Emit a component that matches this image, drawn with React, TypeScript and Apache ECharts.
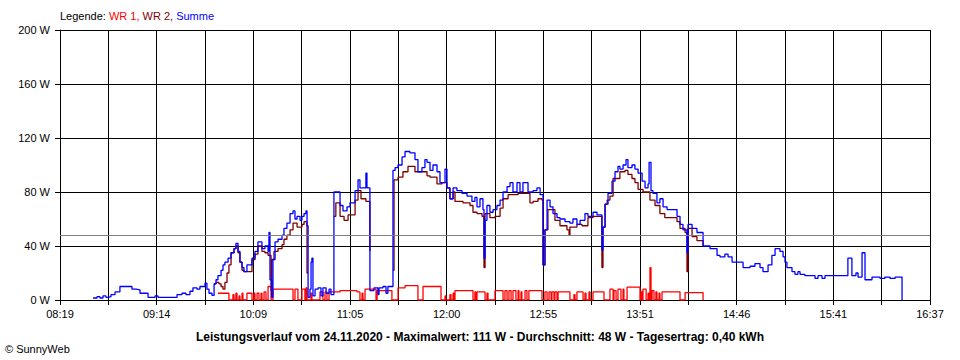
import React, { useEffect, useRef } from 'react';
import * as echarts from 'echarts';

// x values: minutes after 08:19 (first axis tick); y values: watts
const TIME_LABELS = ['08:19', '09:14', '10:09', '11:05', '12:00', '12:55', '13:51', '14:46', '15:41', '16:37'];
const SPAN_MIN = 498; // 08:19 -> 16:37
const AVG_W = 48;
const DATE = '24.11.2020';
const MAX_W = 111;
const YIELD_KWH = '0,40';

const wr1: [number, number][] = [
  [90.4, 5], [96.7, 0], [99.0, 4], [99.6, 0], [100.7, 5], [101.3, 0], [102.5, 3], [103.0, 0],
  [104.2, 5], [104.7, 0], [107.0, 5], [109.9, 0], [111.0, 5], [111.6, 0], [112.8, 5], [113.9, 0],
  [115.1, 5], [115.6, 0], [116.8, 6], [117.9, 0], [119.1, 10], [120.8, 0], [121.9, 8], [133.4, 0],
  [134.5, 8], [136.2, 0], [138.5, 8], [140.2, 0], [140.8, 9], [141.4, 0], [143.7, 5], [144.2, 0],
  [148.8, 6], [150.5, 0], [151.7, 6], [152.8, 0], [154.0, 6], [160.3, 7], [170.0, 6], [171.7, 0],
  [172.9, 5], [173.4, 0], [174.6, 8], [180.9, 0], [181.5, 7], [190.0, 0], [193.5, 9], [197.5, 10.6],
  [204.9, 0], [207.8, 10], [218.1, 0], [220.4, 3], [220.9, 0], [223.2, 4], [223.8, 0], [225.0, 5],
  [225.5, 0], [226.1, 7], [236.4, 0], [237.5, 6], [238.1, 0], [238.7, 6], [243.3, 0], [244.4, 5],
  [245.0, 0], [249.0, 7], [253.6, 0], [254.7, 7], [255.9, 0], [257.0, 7], [258.2, 0], [259.3, 7],
  [261.0, 0], [262.2, 7], [262.7, 0], [263.9, 6], [264.4, 0], [266.2, 7], [267.3, 0], [268.4, 7],
  [275.9, 0], [277.6, 6], [278.8, 0], [279.9, 6], [281.1, 0], [281.6, 6], [282.8, 0], [283.3, 6],
  [284.5, 0], [285.1, 6], [291.9, 0], [294.2, 4], [294.8, 0], [295.9, 6], [299.4, 0], [300.5, 5],
  [301.1, 0], [302.8, 6], [303.4, 0], [305.1, 6], [311.4, 0], [314.8, 8], [316.6, 0], [317.1, 7],
  [318.3, 0], [319.4, 8], [321.1, 0], [322.3, 8], [322.8, 0], [324.6, 9.5], [332.0, 0], [332.6, 6],
  [333.2, 0], [333.7, 8], [335.5, 0], [336.6, 5], [337.2, 0], [337.7, 24], [338.3, 0], [338.9, 7],
  [340.0, 0], [341.1, 6], [341.7, 0], [342.9, 5], [343.4, 0], [344.6, 6], [354.9, 0], [357.8, 5.5],
  [368.1, 0],
];

const wr2: [number, number | null][] = [
  [88.2, 12], [89.3, 13], [91.0, 12], [92.2, 10], [93.3, 8], [94.4, 13], [95.6, 20], [96.7, 26],
  [97.9, 35], [99.6, 38], [100.7, 40], [101.9, 35], [103.0, 28], [104.2, 22], [105.3, 21], [109.9, 30],
  [111.6, 34], [113.3, 40], [115.6, 36], [117.3, 35], [119.1, 33], [120.8, 7], [121.3, 30], [122.5, 36],
  [124.8, 38], [127.1, 41], [128.2, 45], [129.9, 48], [131.7, 52], [133.4, 57], [135.7, 54], [137.4, 54],
  [138.5, 56], [139.7, 58], [141.4, 20], [142.0, null],
  [156.8, 62], [157.9, 72], [160.3, 62], [162.6, 59], [164.9, 63], [166.0, 63], [168.9, 74], [170.6, 81],
  [172.3, 75], [175.1, 73], [177.4, 37], [178.0, null],
  [190.6, 22], [191.2, 89], [193.5, 91], [196.3, 95], [199.2, 99], [203.2, 95], [204.9, 95], [207.2, 95],
  [210.1, 92], [211.8, 91], [215.8, 86], [218.7, 87], [221.5, 83], [223.2, 75], [225.0, 80], [226.1, 73],
  [230.7, 72], [234.7, 70], [236.4, 65], [238.7, 64], [241.6, 62], [242.7, 24], [243.3, 64], [246.1, 61],
  [249.0, 62], [251.9, 68], [253.6, 75], [256.5, 78], [262.2, 79], [269.0, 72], [270.8, 73], [273.6, 75],
  [275.9, 74], [276.5, 26], [277.6, 52], [279.3, 67], [283.3, 59], [286.2, 55], [290.2, 52], [291.4, 48],
  [291.9, 54], [295.9, 56], [298.8, 55], [302.2, 61], [305.1, 62], [310.2, 24], [310.8, 54], [312.0, 71],
  [313.2, 74], [314.8, 77], [316.6, 90], [320.5, 95], [323.4, 96], [325.1, 93], [327.4, 90], [329.1, 87],
  [330.9, 82], [333.7, 80], [337.7, 74], [340.6, 70], [343.4, 64], [346.2, 61], [353.2, 58], [354.9, 53],
  [357.8, 50], [358.9, 21], [359.5, 53], [361.8, 47], [364.6, 44], [368.1, 40], [368.6, null],
];

const summe: [number, number][] = [
  [18.9, 1.5], [21.2, 2.5], [22.9, 1.5], [24.6, 3], [26.3, 2], [27.5, 2.5], [29.2, 4], [31.5, 6],
  [34.3, 10], [41.2, 8], [43.5, 7.5], [45.8, 5], [50.4, 2], [54.4, 3], [56.1, 2], [67.0, 4],
  [69.8, 5], [72.1, 4], [74.4, 6.5], [76.1, 9], [78.4, 8], [80.1, 10], [83.0, 12.5], [84.1, 8],
  [85.3, 5], [87.0, 3.5], [88.2, 12], [89.3, 15], [90.4, 18], [92.2, 22], [93.3, 26], [94.4, 28],
  [96.2, 31], [97.9, 35], [99.6, 38], [100.7, 42], [101.9, 36], [103.0, 28], [104.2, 24], [105.3, 21],
  [107.0, 26], [109.9, 31], [111.6, 36], [113.3, 43], [115.6, 38], [117.3, 40], [119.1, 36], [119.6, 50],
  [120.2, 15], [121.1, 2], [121.9, 30], [123.1, 43], [124.8, 45], [127.1, 48], [128.2, 53], [129.9, 57],
  [131.7, 64], [133.4, 66], [134.5, 60], [135.7, 62], [137.4, 59], [138.5, 62], [139.7, 64], [140.8, 66],
  [141.4, 55], [142.0, 2], [143.1, 8], [143.7, 28], [144.2, 31], [144.8, 3], [146.0, 8], [147.7, 9],
  [149.4, 3], [150.5, 9], [152.3, 5], [154.0, 8], [155.1, 4], [156.8, 80], [160.3, 70], [162.0, 66],
  [164.3, 69], [166.0, 72], [168.9, 81], [170.6, 89], [171.7, 83], [175.1, 94], [175.7, 83], [177.4, 7],
  [179.7, 9], [182.0, 4], [182.6, 9], [184.9, 10], [186.6, 5], [187.7, 10], [190.6, 96], [191.8, 98],
  [193.5, 100], [195.8, 106], [197.5, 110], [200.3, 109], [203.2, 104], [204.9, 95], [207.2, 98], [208.9, 104],
  [210.1, 102], [211.8, 96], [213.5, 100], [215.8, 95], [217.5, 87], [220.4, 97], [221.5, 83], [223.2, 75],
  [225.0, 83], [227.2, 81], [230.1, 79], [233.0, 77], [235.8, 73], [237.5, 76], [238.7, 69], [240.4, 75],
  [242.1, 67], [242.7, 31], [243.3, 59], [244.4, 70], [246.1, 65], [247.9, 67], [250.1, 70], [251.9, 74],
  [253.6, 80], [255.9, 84], [257.6, 87], [259.3, 80], [261.6, 87], [263.3, 80], [265.0, 87], [267.9, 80],
  [270.8, 81], [273.0, 83], [274.8, 78], [276.5, 26], [277.6, 52], [278.8, 74], [280.5, 69], [282.2, 64],
  [284.5, 61], [286.2, 60], [289.1, 58], [291.9, 57], [293.6, 60], [295.9, 56], [297.7, 59], [300.5, 64],
  [302.2, 62], [305.1, 65], [307.4, 63], [310.2, 37], [310.8, 54], [312.0, 71], [313.7, 79], [316.0, 88],
  [317.7, 95], [319.4, 99], [320.5, 97], [322.3, 100], [324.0, 104], [325.1, 98], [327.4, 100], [329.1, 97],
  [330.9, 94], [333.2, 88], [334.9, 83], [336.6, 86], [337.2, 102], [338.3, 81], [339.4, 79], [341.7, 72],
  [343.4, 75], [345.2, 69], [347.5, 67], [353.2, 62], [354.9, 56], [356.6, 52], [358.9, 35], [359.5, 56],
  [361.8, 53], [364.6, 50], [368.1, 40], [372.1, 38], [376.1, 33], [377.8, 32], [380.6, 34], [382.4, 32],
  [384.7, 28], [391.0, 24], [395.0, 25], [397.8, 27], [400.7, 24], [402.4, 21], [405.3, 26], [407.5, 33],
  [409.3, 38], [412.1, 36], [413.9, 32], [415.0, 28], [416.1, 24], [419.0, 21], [420.7, 19], [422.4, 21],
  [423.6, 19], [426.4, 18], [432.2, 16], [433.9, 18], [436.2, 16], [437.9, 18], [451.0, 31], [453.3, 18],
  [455.6, 20], [456.8, 17], [459.1, 35], [460.8, 15], [464.8, 17], [469.4, 16], [472.2, 17], [475.1, 16],
  [478.0, 17], [482.0, 0],
];

const FONT = '"Liberation Sans", Arial, sans-serif';
const STEP_SEC = (SPAN_MIN * 60) / 18;

const toSec = (pts: [number, number | null][]) =>
  pts.map(([t, w]) => [Math.round(t * 60), w === null ? '-' : w]);

export default function App() {
  const ref = useRef<HTMLDivElement>(null);
  useEffect(() => {
    const chart = echarts.init(ref.current!, null, { renderer: 'svg' });
    const lineBase = {
      type: 'line',
      step: 'end',
      showSymbol: false,
      symbol: 'none',
      connectNulls: false,
    };
    chart.setOption({
      animation: false,
      backgroundColor: '#ffffff',
      textStyle: { fontFamily: FONT },
      title: [
        {
          left: 60,
          top: 10,
          padding: 0,
          text: '{k|Legende: }{a|WR 1, }{b|WR 2, }{c|Summe}',
          textStyle: {
            fontSize: 11,
            fontWeight: 'normal',
            rich: {
              k: { color: '#000000', fontSize: 11, fontFamily: FONT },
              a: { color: '#ff0000', fontSize: 11, fontFamily: FONT },
              b: { color: '#800000', fontSize: 11, fontFamily: FONT },
              c: { color: '#0000ff', fontSize: 11, fontFamily: FONT },
            },
          },
        },
        {
          left: 'center',
          top: 331,
          padding: 0,
          text: `Leistungsverlauf vom ${DATE} - Maximalwert: ${MAX_W} W - Durchschnitt: ${AVG_W} W - Tagesertrag: ${YIELD_KWH} kWh`,
          textStyle: { fontSize: 12, fontWeight: 'bold', color: '#000000', fontFamily: FONT },
        },
        {
          left: 5,
          top: 343,
          padding: 0,
          text: '© SunnyWeb',
          textStyle: { fontSize: 11, fontWeight: 'normal', color: '#000000', fontFamily: FONT },
        },
      ],
      grid: { left: 60, right: 30, top: 30, bottom: 60, containLabel: false },
      xAxis: {
        type: 'value',
        min: 0,
        max: SPAN_MIN * 60,
        interval: STEP_SEC,
        axisLine: { show: true, lineStyle: { color: '#000000', width: 1 } },
        axisTick: { show: true, length: 5, lineStyle: { color: '#000000' } },
        splitLine: { show: true, lineStyle: { color: '#000000', width: 1 } },
        axisLabel: {
          color: '#000000',
          fontSize: 11,
          fontFamily: FONT,
          margin: 8,
          showMinLabel: true,
          showMaxLabel: true,
          formatter: (v: number) => {
            const i = Math.round(v / (STEP_SEC * 2));
            return Math.abs(v - i * STEP_SEC * 2) < 1 ? TIME_LABELS[i] ?? '' : '';
          },
        },
      },
      yAxis: {
        type: 'value',
        min: 0,
        max: 200,
        interval: 40,
        axisLine: { show: true, lineStyle: { color: '#000000', width: 1 } },
        axisTick: { show: true, length: 5, lineStyle: { color: '#000000' } },
        splitLine: { show: true, lineStyle: { color: '#000000', width: 1 } },
        axisLabel: {
          color: '#000000',
          fontSize: 11,
          fontFamily: FONT,
          margin: 10,
          formatter: '{value} W',
        },
      },
      series: [
        {
          ...lineBase,
          name: 'WR 1',
          data: toSec(wr1),
          lineStyle: { color: '#ff0000', width: 1.3 },
          itemStyle: { color: '#ff0000' },
          markLine: {
            silent: true,
            symbol: 'none',
            label: { show: false },
            lineStyle: { color: '#808080', type: 'solid', width: 1 },
            data: [{ yAxis: AVG_W }],
          },
        },
        {
          ...lineBase,
          name: 'WR 2',
          data: toSec(wr2),
          lineStyle: { color: '#800000', width: 1.3 },
          itemStyle: { color: '#800000' },
        },
        {
          ...lineBase,
          name: 'Summe',
          data: toSec(summe),
          lineStyle: { color: '#0000ff', width: 1.3 },
          itemStyle: { color: '#0000ff' },
        },
      ],
    });
    return () => chart.dispose();
  }, []);
  return (
    <div
      ref={ref}
      style={{ position: 'fixed', left: 0, top: 0, width: 960, height: 360, background: '#ffffff' }}
    />
  );
}
